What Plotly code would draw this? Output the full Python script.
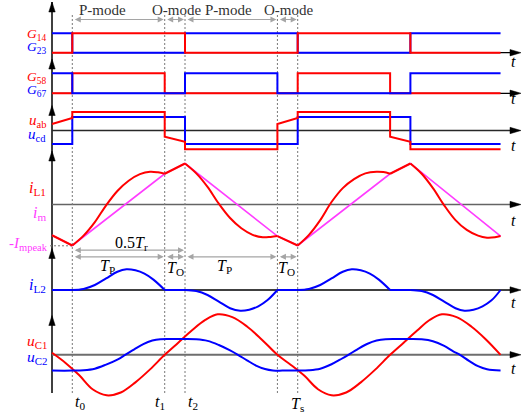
import plotly.graph_objects as go

# ---------------- data (time normalised: t0 = 0, half switching period t0->t2 = 1) ----------------
mode_times = [0.0, 0.82, 1.0, 1.82, 2.0]          # t0, t1, t2, t3, Ts
mode_names = ["P-mode", "O-mode", "P-mode", "O-mode"]
t_begin, t_stop = -0.18, 3.8

g14_t = [-0.18, 0.0, 1.0, 2.0, 3.0, 3.8]
g14_v = [0, 1, 0, 1, 0, 0]
g23_t = [-0.18, 0.0, 1.0, 2.0, 3.0, 3.8]
g23_v = [1, 0, 1, 0, 1, 1]
g58_t = [-0.18, 0.0, 0.82, 2.0, 2.82, 3.8]
g58_v = [0, 1, 0, 1, 0, 0]
g67_t = [-0.18, 0.0, 1.0, 1.82, 3.0, 3.8]
g67_v = [1, 0, 1, 0, 1, 1]

uab_t = [-0.18, 0.0, 0.0, 0.82, 0.82, 1.0, 1.0, 1.82, 1.82, 2.0, 2.0, 2.82, 2.82, 3.0, 3.0, 3.8]
uab_v = [0.48, 0.93, 1.37, 1.37, -0.46, -0.83, -1.39, -1.39, 0.48, 0.93, 1.37, 1.37, -0.46, -0.83, -1.39, -1.39]
ucd_t = [-0.18, 0.0, 0.0, 1.0, 1.0, 2.0, 2.0, 3.0, 3.0, 3.8]
ucd_v = [-1, -1, 1, 1, -1, -1, 1, 1, -1, -1]

im_t = [-0.18, 0.0, 0.82, 1.0, 1.82, 2.0, 2.82, 3.0, 3.8]
im_v = [-0.75, -1.0, 0.75, 1.0, -0.77, -1.0, 0.75, 1.0, -0.77]

iL1_t = [-0.18, 0.0, None,
         0.0, 0.1, 0.2, 0.3, 0.4, 0.5, 0.6, 0.69, 0.76, 0.82, None,
         0.82, 1.0, None,
         1.0, 1.1, 1.2, 1.3, 1.4, 1.5, 1.6, 1.69, 1.76, 1.82, None,
         1.82, 2.0, None,
         2.0, 2.1, 2.2, 2.3, 2.4, 2.5, 2.6, 2.7, 2.76, 2.82, None,
         2.82, 3.0, None,
         3.0, 3.1, 3.2, 3.3, 3.4, 3.5, 3.6, 3.68, 3.75, 3.8]
iL1_v = [-0.75, -1.0, None,
         -1.0, -0.76, -0.43, -0.02, 0.33, 0.58, 0.74, 0.80, 0.785, 0.75, None,
         0.75, 1.0, None,
         1.0, 0.76, 0.43, 0.02, -0.33, -0.58, -0.74, -0.80, -0.79, -0.77, None,
         -0.77, -1.0, None,
         -1.0, -0.74, -0.38, 0.06, 0.40, 0.62, 0.76, 0.80, 0.79, 0.75, None,
         0.75, 1.0, None,
         1.0, 0.75, 0.40, -0.02, -0.38, -0.62, -0.76, -0.81, -0.80, -0.77]

iL2_t = [-0.18, 0.0, None,
         0.0, 0.1, 0.2, 0.3, 0.4, 0.48, 0.56, 0.64, 0.72, 0.82, None,
         0.82, 1.0, None,
         1.0, 1.1, 1.2, 1.3, 1.4, 1.49, 1.57, 1.65, 1.73, 1.82, None,
         1.82, 2.0, None,
         2.0, 2.1, 2.2, 2.3, 2.4, 2.48, 2.56, 2.64, 2.72, 2.82, None,
         2.82, 3.0, None,
         3.0, 3.1, 3.2, 3.3, 3.4, 3.48, 3.56, 3.64, 3.72, 3.8]
iL2_v = [0, 0, None,
         0, 0.05, 0.24, 0.56, 0.88, 1.0, 0.95, 0.79, 0.50, 0, None,
         0, 0, None,
         0, -0.05, -0.24, -0.56, -0.88, -1.0, -0.95, -0.79, -0.50, 0, None,
         0, 0, None,
         0, 0.05, 0.24, 0.56, 0.88, 1.0, 0.95, 0.79, 0.50, 0, None,
         0, 0, None,
         0, -0.05, -0.24, -0.56, -0.88, -1.0, -0.95, -0.79, -0.50, 0]

uC1_t = [-0.18, -0.06, 0.06, 0.18, 0.305, 0.43, 0.56, 0.69, 0.82, 0.94, 1.06, 1.18, 1.29, 1.42, 1.55, 1.68, 1.82,
         1.94, 2.06, 2.18, 2.30, 2.43, 2.56, 2.69, 2.82, 2.94, 3.06, 3.17, 3.28, 3.41, 3.54, 3.67, 3.8]
uC1_v = [0.05, -0.2, -0.5, -0.85, -1.0, -0.93, -0.68, -0.36, 0.0, 0.3, 0.6, 0.86, 1.0, 0.93, 0.7, 0.38, 0.0,
         -0.25, -0.52, -0.85, -1.0, -0.93, -0.68, -0.36, 0.0, 0.3, 0.6, 0.86, 1.0, 0.93, 0.7, 0.38, 0.0]

uC2_t = [-0.18, 0.0, 0.1, 0.2, 0.3, 0.4, 0.47, 0.55, 0.63, 0.71, 0.78, 0.9, 1.0,
         1.1, 1.2, 1.3, 1.4, 1.47, 1.55, 1.63, 1.71, 1.78, 1.9, 2.0,
         2.1, 2.2, 2.3, 2.39, 2.45, 2.53, 2.62, 2.7, 2.78, 2.9, 3.0,
         3.1, 3.2, 3.3, 3.38, 3.44, 3.52, 3.6, 3.68, 3.8]
uC2_v = [-1.0, -1.0, -0.98, -0.88, -0.62, -0.3, 0.0, 0.35, 0.68, 0.9, 0.99, 1.0, 1.0,
         0.98, 0.88, 0.62, 0.28, 0.0, -0.35, -0.68, -0.9, -0.99, -1.0, -1.0,
         -0.98, -0.88, -0.6, -0.25, 0.0, 0.35, 0.7, 0.9, 0.99, 1.0, 1.0,
         0.98, 0.86, 0.56, 0.22, 0.0, -0.38, -0.72, -0.92, -1.0]

# ---------------- layout constants ----------------
W, H = 521, 417
X0, U = 72.3, 112.7            # pixel of t0, pixels per time unit
RED, BLUE, MAG = "rgb(255,0,0)", "rgb(0,0,255)", "rgb(255,60,255)"
GREY = "rgb(165,165,165)"
FONT = "Liberation Serif"

def PX(x):
    return x / W

def PY(y):
    return 1 - y / H

def T(px):
    return (px - X0) / U

# panel: axis id -> (baseline px, px per unit)
panels = {
    "y": (52.7, 19.4),
    "y2": (93.3, 20.0),
    "y3": (130.5, 13.5),
    "y4": (204.5, 41.0),
    "y5": (290.0, 20.7),
    "y6": (354.8, 40.5),
    "y7": (354.8, 15.8),
}

fig = go.Figure()

def add(x, y, ax, color, width=2.0, shape="linear"):
    line = dict(color=color, width=width, shape=shape)
    if shape == "spline":
        line["smoothing"] = 1.0
    fig.add_trace(go.Scatter(x=x, y=y, mode="lines", yaxis=ax, hoverinfo="skip",
                             line=line, connectgaps=False, showlegend=False))

add(g23_t, g23_v, "y", BLUE, shape="hv")
add(g14_t, g14_v, "y", RED, shape="hv")
add(g58_t, g58_v, "y2", RED, shape="hv")
add(g67_t, g67_v, "y2", BLUE, shape="hv")
add(ucd_t, ucd_v, "y3", BLUE)
add(uab_t, uab_v, "y3", RED)
add(im_t, im_v, "y4", MAG, width=1.6)
add(iL1_t, iL1_v, "y4", RED, shape="spline")
add(iL2_t, iL2_v, "y5", BLUE, shape="spline")
add(uC2_t, uC2_v, "y7", BLUE, shape="spline")
add(uC1_t, uC1_v, "y6", RED, shape="spline")

shapes = []
annotations = []

# vertical axis line
shapes.append(dict(type="line", xref="paper", yref="paper", x0=PX(52), x1=PX(52),
                   y0=PY(2), y1=PY(393), line=dict(color="black", width=1.5), layer="below"))
# vertical arrowheads
for tip in [2, 59, 105.5, 151, 248.5, 315.5]:
    p = "M {} {} L {} {} L {} {} Z".format(PX(52), PY(tip), PX(48.8), PY(tip + 10), PX(55.2), PY(tip + 10))
    shapes.append(dict(type="path", xref="paper", yref="paper", path=p,
                       fillcolor="black", line=dict(color="black", width=0.5)))

# horizontal axes
hax = [("y", "black", 1.3), ("y2", "black", 1.3), ("y3", "rgb(40,40,40)", 1.3),
       ("y4", "rgb(100,100,100)", 1.6), ("y5", "black", 1.3), ("y6", "rgb(110,110,110)", 2.0)]
for ax, col, w in hax:
    base = panels[ax][0]
    shapes.append(dict(type="line", xref="paper", yref="paper", x0=PX(52), x1=PX(514),
                       y0=PY(base), y1=PY(base), line=dict(color=col, width=w), layer="below"))
    p = "M {} {} L {} {} L {} {} Z".format(PX(521), PY(base), PX(510), PY(base - 3.2), PX(510), PY(base + 3.2))
    shapes.append(dict(type="path", xref="paper", yref="paper", path=p,
                       fillcolor="black", line=dict(color="black", width=0.5)))

# dotted vertical time markers
for tm in mode_times:
    shapes.append(dict(type="line", xref="x", yref="paper", x0=tm, x1=tm,
                       y0=PY(393), y1=PY(15), layer="below",
                       line=dict(color="rgb(120,120,120)", width=1, dash="2px,2px")))
# -Impeak guide
shapes.append(dict(type="line", xref="paper", yref="paper", x0=PX(50), x1=PX(72),
                   y0=PY(245.8), y1=PY(245.8), layer="below",
                   line=dict(color="rgb(120,120,120)", width=1, dash="2px,2px")))

def dim_arrow(a, b, ypx):
    annotations.append(dict(x=b, y=PY(ypx), xref="x", yref="paper", ax=a, ay=0, axref="x",
                            ayref="pixel", text="", showarrow=True, arrowhead=2, arrowsize=1,
                            arrowwidth=1.2, arrowcolor=GREY, arrowside="end+start", standoff=1,
                            startstandoff=1))

for i in range(4):
    dim_arrow(mode_times[i], mode_times[i + 1], 19.5)
    dim_arrow(mode_times[i], mode_times[i + 1], 256.8)
dim_arrow(mode_times[0], mode_times[2], 250.2)

def lab(text, x, y, color="black", size=15, xanchor="center"):
    annotations.append(dict(x=PX(x), y=PY(y), xref="paper", yref="paper", text=text,
                            showarrow=False, xanchor=xanchor, yanchor="middle",
                            font=dict(family=FONT, size=size, color=color)))

mode_x = [102, 176, 228, 288]
for name, mx in zip(mode_names, mode_x):
    lab(name, mx, 10, color="rgb(50,50,50)", size=15)

lab("<i>G</i><sub>14</sub>", 48, 34.5, RED, 13.5, "right")
lab("<i>G</i><sub>23</sub>", 48, 48, BLUE, 13.5, "right")
lab("<i>G</i><sub>58</sub>", 48, 77.5, RED, 13.5, "right")
lab("<i>G</i><sub>67</sub>", 48, 91, BLUE, 13.5, "right")
lab("<i>u</i><sub>ab</sub>", 48, 121.5, RED, 15, "right")
lab("<i>u</i><sub>cd</sub>", 48, 135, BLUE, 15, "right")
lab("<i>i</i><sub>L1</sub>", 48, 188, RED, 16, "right")
lab("<i>i</i><sub>m</sub>", 48, 213, MAG, 16, "right")
lab("-<i>I</i><sub>mpeak</sub>", 50, 244, MAG, 15, "right")
lab("<i>i</i><sub>L2</sub>", 48, 285, BLUE, 16, "right")
lab("<i>u</i><sub>C1</sub>", 49, 341, RED, 15.5, "right")
lab("<i>u</i><sub>C2</sub>", 49, 357.5, BLUE, 15.5, "right")

for ty in [62, 98.5, 145, 220, 302.5, 368]:
    lab("<i>t</i>", 513, ty, "black", 16)

lab("0.5<i>T</i><sub>r</sub>", 131, 243, "black", 16)
lab("<i>T</i><sub>P</sub>", 107, 266, "black", 16)
lab("<i>T</i><sub>O</sub>", 175, 268, "black", 16)
lab("<i>T</i><sub>P</sub>", 224, 266, "black", 16)
lab("<i>T</i><sub>O</sub>", 286, 268, "black", 16)

lab("<i>t</i><sub>0</sub>", 80, 402, "black", 16)
lab("<i>t</i><sub>1</sub>", 160, 402, "black", 16)
lab("<i>t</i><sub>2</sub>", 193, 402, "black", 16)
lab("<i>T</i><sub>s</sub>", 297, 404, "black", 16)

layout_axes = {}
for ax, (base, scale) in panels.items():
    key = "yaxis" if ax == "y" else "yaxis" + ax[1:]
    d = dict(range=[(base - H) / scale, base / scale], domain=[0, 1], visible=False,
             fixedrange=True)
    if ax != "y":
        d["overlaying"] = "y"
    layout_axes[key] = d

fig.update_layout(
    width=W, height=H, margin=dict(l=0, r=0, t=0, b=0, pad=0),
    paper_bgcolor="white", plot_bgcolor="white", showlegend=False,
    xaxis=dict(range=[T(0), T(W)], visible=False, fixedrange=True),
    shapes=shapes, annotations=annotations, **layout_axes)

fig.write_html("out.html")
